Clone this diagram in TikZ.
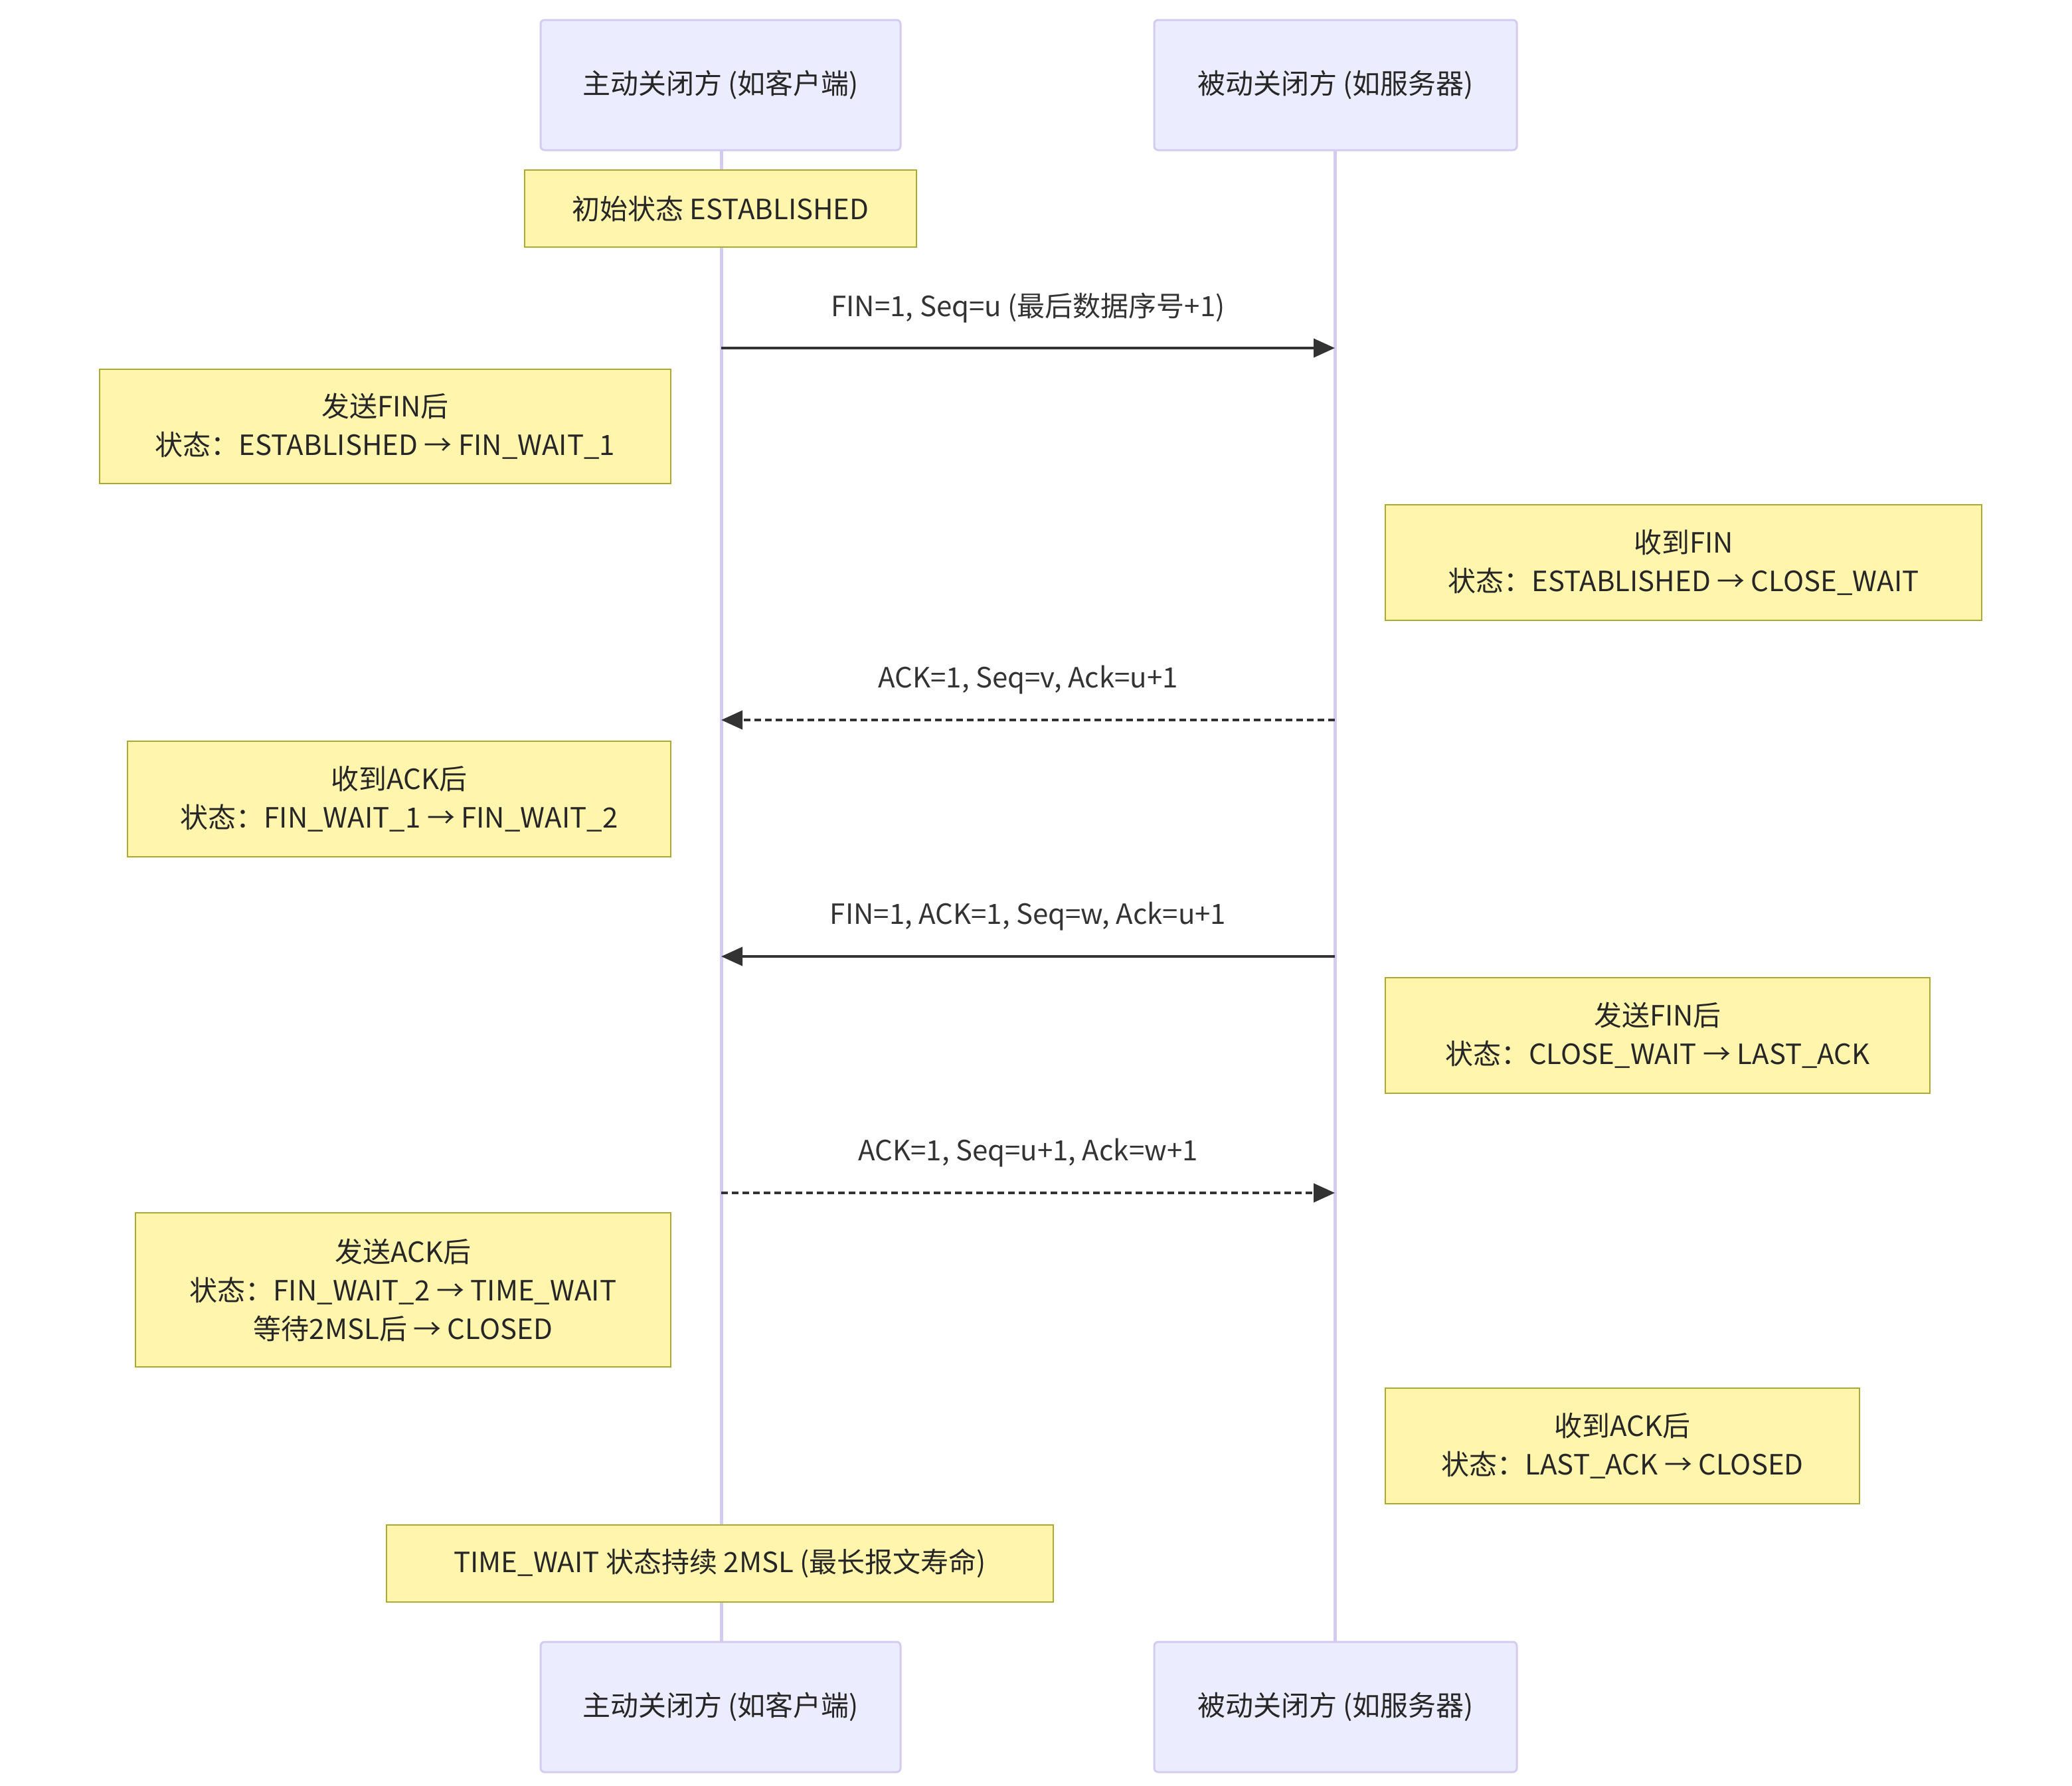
\documentclass[tikz,border=0pt]{standalone}
\usepackage{fontspec}
\setmainfont{Noto Sans CJK SC}
\usetikzlibrary{arrows.meta}
\definecolor{actf}{HTML}{ECECFF}
\definecolor{actd}{HTML}{D4CCF0}
\definecolor{notef}{HTML}{FFF5AD}
\definecolor{noted}{HTML}{AAAA33}
\definecolor{msg}{HTML}{333333}
\begin{document}
\begin{tikzpicture}[x=1pt,y=-1pt,
  every node/.style={font=\fontsize{21}{29}\selectfont, text=black!85},
  actor/.style={draw=actd, line width=1.5pt, fill=actf, rounded corners=3pt, minimum height=98pt, inner sep=0pt},
  note/.style={draw=noted, line width=1.2pt, fill=notef, align=center, inner sep=0pt},
  life/.style={draw=actd, line width=2.5pt},
  m/.style={draw=msg, line width=2pt, -{Triangle[length=16pt,width=14pt]}},
  md/.style={m, dash pattern=on 5pt off 3pt},
  lbl/.style={text=black!80}]
\useasboundingbox (0,0) rectangle (1560,1344);
\coordinate (lt) at (543,113); \coordinate (lb) at (543,1236);
\coordinate (rt) at (1005,113); \coordinate (rb) at (1005,1236);
\draw[life] (lt) -- (lb);
\draw[life] (rt) -- (rb);
\node[actor, minimum width=271pt] (a1) at (542.5,64) {主动关闭方 (如客户端)};
\node[actor, minimum width=273pt] (b1) at (1005.5,64) {被动关闭方 (如服务器)};
\node[actor, minimum width=271pt] (a2) at (542.5,1285) {主动关闭方 (如客户端)};
\node[actor, minimum width=273pt] (b2) at (1005.5,1285) {被动关闭方 (如服务器)};
\node[note, minimum width=295pt, minimum height=58pt] (n0) at (542.5,157) {初始状态 ESTABLISHED};
\coordinate (s1) at (543,262); \coordinate (e1) at (1005,262);
\draw[m] (s1) -- (e1);
\node[lbl] (l1) at (774,232) {FIN=1, Seq=u (最后数据序号+1)};
\node[note, minimum width=430pt, minimum height=86pt] (n1) at (290,321) {发送FIN后\\状态：ESTABLISHED → FIN\_WAIT\_1};
\node[note, minimum width=449pt, minimum height=87pt] (n2) at (1267.5,423.5) {收到FIN\\状态：ESTABLISHED → CLOSE\_WAIT};
\coordinate (s2) at (1005,542); \coordinate (e2) at (543,542);
\draw[md] (s2) -- (e2);
\node[lbl] (l2) at (774,512) {ACK=1, Seq=v, Ack=u+1};
\node[note, minimum width=409pt, minimum height=87pt] (n3) at (300.5,601.5) {收到ACK后\\状态：FIN\_WAIT\_1 → FIN\_WAIT\_2};
\coordinate (s3) at (1005,720); \coordinate (e3) at (543,720);
\draw[m] (s3) -- (e3);
\node[lbl] (l3) at (774,690) {FIN=1, ACK=1, Seq=w, Ack=u+1};
\node[note, minimum width=410pt, minimum height=87pt] (n4) at (1248,779.5) {发送FIN后\\状态：CLOSE\_WAIT → LAST\_ACK};
\coordinate (s4) at (543,898); \coordinate (e4) at (1005,898);
\draw[md] (s4) -- (e4);
\node[lbl] (l4) at (774,868) {ACK=1, Seq=u+1, Ack=w+1};
\node[note, minimum width=403pt, minimum height=116pt] (n5) at (303.5,971) {发送ACK后\\状态：FIN\_WAIT\_2 → TIME\_WAIT\\等待2MSL后 → CLOSED};
\node[note, minimum width=357pt, minimum height=87pt] (n6) at (1221.5,1088.5) {收到ACK后\\状态：LAST\_ACK → CLOSED};
\node[note, minimum width=502pt, minimum height=58pt] (n7) at (542,1177) {TIME\_WAIT 状态持续 2MSL (最长报文寿命)};
\end{tikzpicture}
\end{document}
